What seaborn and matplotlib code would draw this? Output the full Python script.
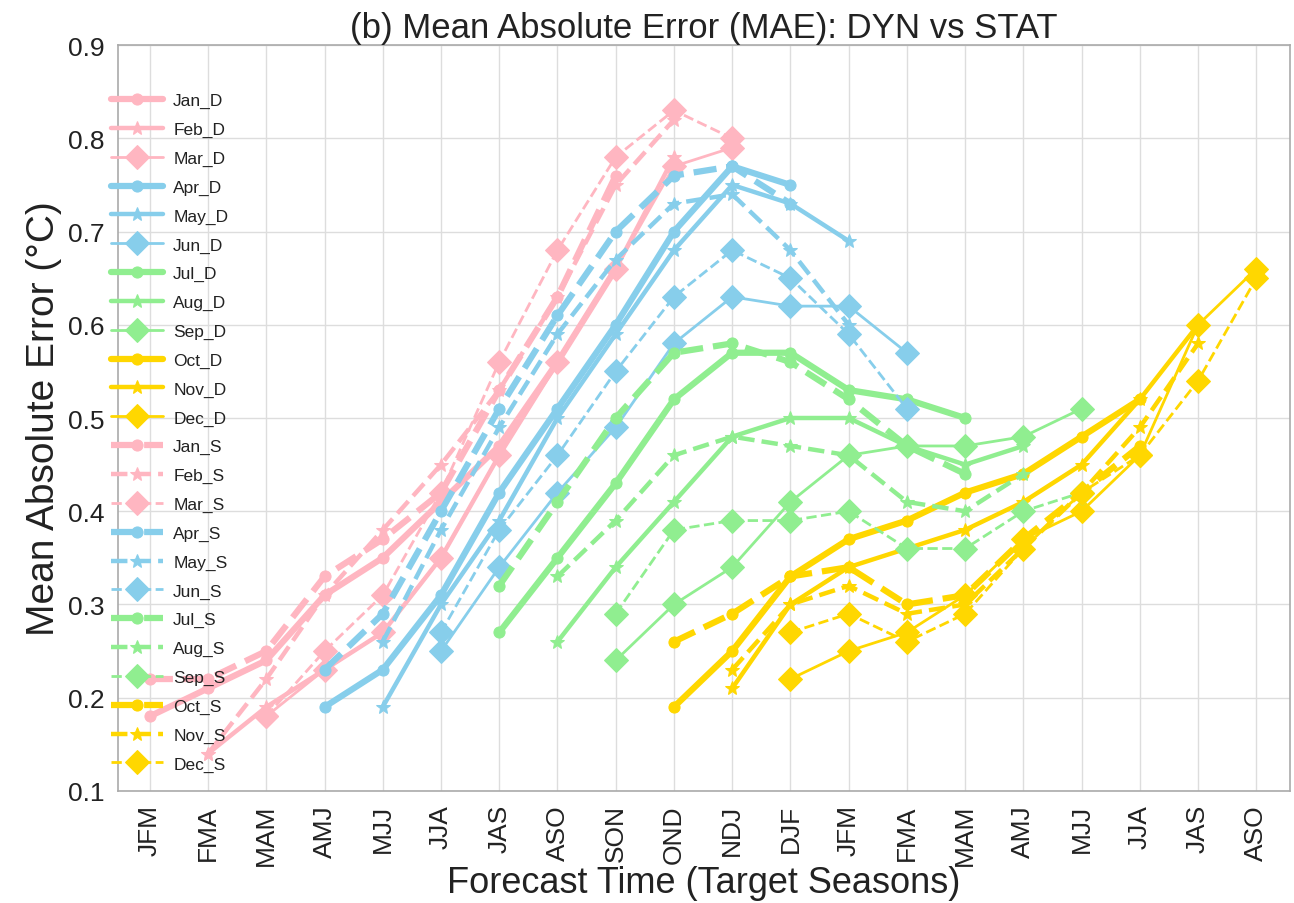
import numpy as np
import matplotlib
matplotlib.use("Agg")
import matplotlib.pyplot as plt
import seaborn as sns

seasons = ["JFM", "FMA", "MAM", "AMJ", "MJJ", "JJA", "JAS", "ASO", "SON", "OND",
           "NDJ", "DJF", "JFM", "FMA", "MAM", "AMJ", "MJJ", "JJA", "JAS", "ASO"]
months = ["Jan", "Feb", "Mar", "Apr", "May", "Jun",
          "Jul", "Aug", "Sep", "Oct", "Nov", "Dec"]

# Dynamical (DYN) MAE, 9 leads each, starting at the month's first target season
jan_d = [0.18, 0.21, 0.24, 0.31, 0.35, 0.41, 0.47, 0.56, 0.66]
feb_d = [0.14, 0.19, 0.23, 0.27, 0.35, 0.46, 0.56, 0.66, 0.78]
mar_d = [0.18, 0.23, 0.27, 0.35, 0.46, 0.56, 0.66, 0.77, 0.79]
apr_d = [0.19, 0.23, 0.31, 0.42, 0.51, 0.60, 0.70, 0.77, 0.75]
may_d = [0.19, 0.30, 0.39, 0.50, 0.59, 0.68, 0.75, 0.73, 0.69]
jun_d = [0.25, 0.34, 0.42, 0.49, 0.58, 0.63, 0.62, 0.62, 0.57]
jul_d = [0.27, 0.35, 0.43, 0.52, 0.57, 0.57, 0.53, 0.52, 0.50]
aug_d = [0.26, 0.34, 0.41, 0.48, 0.50, 0.50, 0.47, 0.45, 0.47]
sep_d = [0.24, 0.30, 0.34, 0.41, 0.46, 0.47, 0.47, 0.48, 0.51]
oct_d = [0.19, 0.25, 0.33, 0.37, 0.39, 0.42, 0.44, 0.48, 0.52]
nov_d = [0.21, 0.30, 0.34, 0.36, 0.38, 0.41, 0.45, 0.52, 0.60]
dec_d = [0.22, 0.25, 0.27, 0.31, 0.37, 0.40, 0.46, 0.60, 0.66]

# Statistical (STAT) MAE
jan_s = [0.22, 0.22, 0.25, 0.33, 0.37, 0.42, 0.53, 0.63, 0.76]
feb_s = [0.14, 0.22, 0.31, 0.38, 0.45, 0.53, 0.63, 0.75, 0.82]
mar_s = [0.18, 0.25, 0.31, 0.42, 0.56, 0.68, 0.78, 0.83, 0.80]
apr_s = [0.23, 0.29, 0.40, 0.51, 0.61, 0.70, 0.76, 0.77, 0.73]
may_s = [0.26, 0.38, 0.49, 0.59, 0.67, 0.73, 0.74, 0.68, 0.60]
jun_s = [0.27, 0.38, 0.46, 0.55, 0.63, 0.68, 0.65, 0.59, 0.51]
jul_s = [0.32, 0.41, 0.50, 0.57, 0.58, 0.56, 0.52, 0.47, 0.44]
aug_s = [0.33, 0.39, 0.46, 0.48, 0.47, 0.46, 0.41, 0.40, 0.44]
sep_s = [0.29, 0.38, 0.39, 0.39, 0.40, 0.36, 0.36, 0.40, 0.42]
oct_s = [0.26, 0.29, 0.33, 0.34, 0.30, 0.31, 0.37, 0.42, 0.47]
nov_s = [0.23, 0.30, 0.32, 0.29, 0.30, 0.36, 0.42, 0.49, 0.58]
dec_s = [0.27, 0.29, 0.26, 0.29, 0.36, 0.42, 0.46, 0.54, 0.65]

dyn = [jan_d, feb_d, mar_d, apr_d, may_d, jun_d, jul_d, aug_d, sep_d, oct_d, nov_d, dec_d]
stat = [jan_s, feb_s, mar_s, apr_s, may_s, jun_s, jul_s, aug_s, sep_s, oct_s, nov_s, dec_s]

colors = ["#FFB6C1", "#87CEEB", "#90EE90", "#FFD700"]
markers = ["o", "*", "D"]
lwidths = [4.5, 3.2, 2.0]
msizes = [8, 10, 12]

sns.set_theme(style="whitegrid")
plt.rcParams["font.family"] = ["Liberation Sans", "DejaVu Sans"]

fig, ax = plt.subplots(figsize=(12.94, 9.04), dpi=100)
fig.subplots_adjust(left=0.091, right=0.997, top=0.949, bottom=0.124)

for kind, data, ls in (("D", dyn, "-"), ("S", stat, "--")):
    for m, vals in enumerate(data):
        x = np.arange(m, m + len(vals))
        sns.lineplot(x=x, y=vals, ax=ax, color=colors[m // 3],
                     linestyle=ls, marker=markers[m % 3],
                     linewidth=lwidths[m % 3], markersize=msizes[m % 3],
                     markeredgecolor=colors[m // 3],
                     label=f"{months[m]}_{kind}")

ax.set_xlim(-0.55, 19.58)
ax.set_ylim(0.1, 0.9)
ax.set_xticks(np.arange(len(seasons)))
ax.set_xticklabels(seasons, rotation=90, fontsize=19, color="#222222")
ax.set_yticks(np.arange(0.1, 0.91, 0.1))
ax.set_yticklabels([f"{v:.1f}" for v in np.arange(0.1, 0.91, 0.1)], fontsize=19,
                   color="#222222")
ax.set_xlabel("Forecast Time (Target Seasons)", fontsize=26, labelpad=0, color="#222222")
ax.set_ylabel("Mean Absolute Error (°C)", fontsize=28, color="#222222")
ax.set_title("(b) Mean Absolute Error (MAE): DYN vs STAT", fontsize=25, pad=6,
             color="#222222")
ax.grid(True, color="#dddddd", linewidth=1)
for s in ax.spines.values():
    s.set_color("#aaaaaa")
    s.set_linewidth(1.2)

leg = ax.legend(loc="upper left", bbox_to_anchor=(-0.012, 0.945), frameon=False,
                fontsize=12.5, handlelength=3.0, handletextpad=0.6,
                labelspacing=0.78, borderaxespad=0)
for t in leg.get_texts():
    t.set_color("#222222")

fig.savefig("out.png", dpi=100)
